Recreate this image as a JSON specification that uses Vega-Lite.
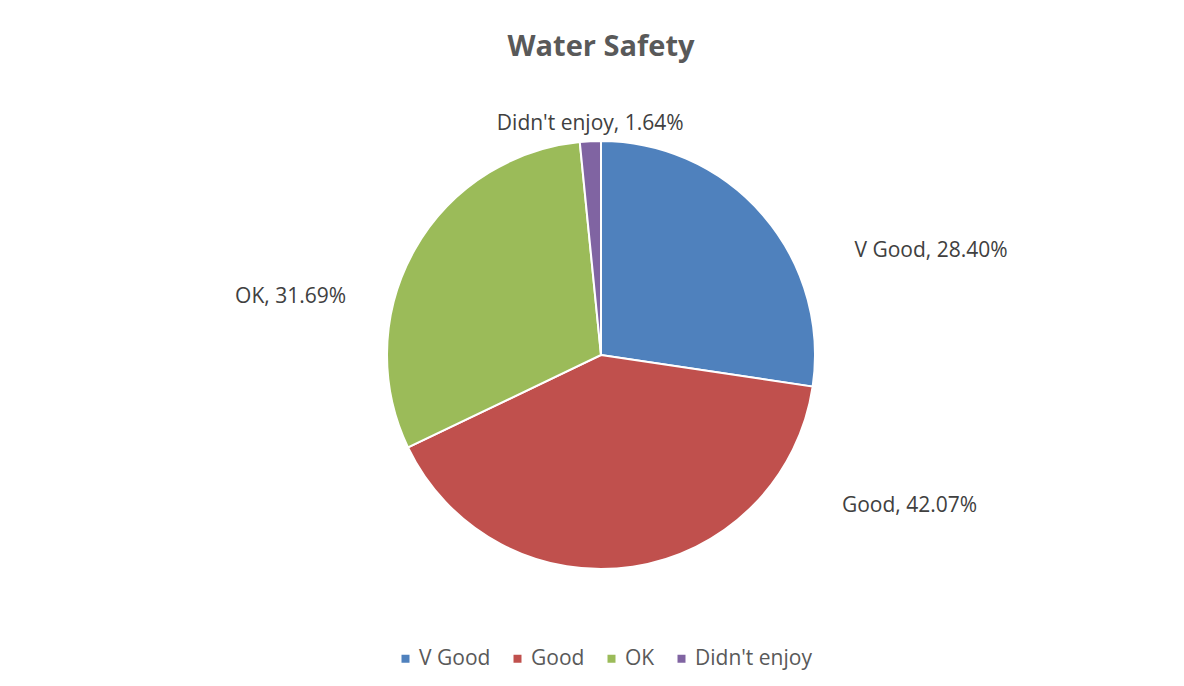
{
  "$schema": "https://vega.github.io/schema/vega-lite/v6.json",
  "width": 1166,
  "height": 662,
  "padding": {"left": 18, "top": 24, "right": 0, "bottom": 0},
  "background": "white",
  "config": {
    "view": {"stroke": null},
    "font": "Open Sans"
  },
  "title": {
    "text": "Water Safety",
    "anchor": "middle",
    "frame": "group",
    "font": "Open Sans",
    "fontSize": 29,
    "fontWeight": "bold",
    "color": "#595959",
    "offset": -38
  },
  "data": {
    "values": [
      {"category": "V Good", "pct": 28.40, "label": "V Good, 28.40%", "n": 1},
      {"category": "Good", "pct": 42.07, "label": "Good, 42.07%", "n": 2},
      {"category": "OK", "pct": 31.69, "label": "OK, 31.69%", "n": 3},
      {"category": "Didn't enjoy", "pct": 1.64, "label": "Didn't enjoy, 1.64%", "n": 4}
    ]
  },
  "transform": [
    {"stack": "pct", "groupby": [], "sort": [{"field": "n", "order": "ascending"}], "as": ["t0", "t1"]}
  ],
  "encoding": {
    "theta": {"field": "t0", "type": "quantitative", "stack": null, "scale": {"domain": [0, 103.8]}},
    "theta2": {"field": "t1"},
    "color": {
      "field": "category",
      "type": "nominal",
      "sort": ["V Good", "Good", "OK", "Didn't enjoy"],
      "scale": {
        "domain": ["V Good", "Good", "OK", "Didn't enjoy"],
        "range": ["#4F81BD", "#C0504D", "#9BBB59", "#8064A2"]
      },
      "legend": {
        "title": null,
        "orient": "none",
        "direction": "horizontal",
        "legendX": 377,
        "legendY": 624,
        "symbolType": "square",
        "symbolSize": 64,
        "symbolStrokeWidth": 0,
        "labelFontSize": 21,
        "labelFont": "Open Sans",
        "labelColor": "#595959",
        "labelOffset": 3,
        "columnPadding": 16
      }
    }
  },
  "layer": [
    {
      "mark": {"type": "arc", "outerRadius": 214, "stroke": "white", "strokeWidth": 2}
    },
    {
      "transform": [{"filter": "datum.category == 'V Good'"}],
      "mark": {"type": "text", "radius": 230, "fontSize": 21, "align": "center", "baseline": "alphabetic", "dx": 330, "dy": 132},
      "encoding": {"text": {"field": "label"}, "color": {"value": "#404040"}}
    },
    {
      "transform": [{"filter": "datum.category == 'Good'"}],
      "mark": {"type": "text", "radius": 230, "fontSize": 21, "align": "center", "baseline": "alphabetic", "dx": 81, "dy": 123},
      "encoding": {"text": {"field": "label"}, "color": {"value": "#404040"}}
    },
    {
      "transform": [{"filter": "datum.category == 'OK'"}],
      "mark": {"type": "text", "radius": 230, "fontSize": 21, "align": "center", "baseline": "alphabetic", "dx": -103, "dy": -151},
      "encoding": {"text": {"field": "label"}, "color": {"value": "#404040"}}
    },
    {
      "transform": [{"filter": "datum.category == \"Didn't enjoy\""}],
      "mark": {"type": "text", "radius": 230, "fontSize": 21, "align": "center", "baseline": "alphabetic", "dx": 12, "dy": 4},
      "encoding": {"text": {"field": "label"}, "color": {"value": "#404040"}}
    }
  ]
}
